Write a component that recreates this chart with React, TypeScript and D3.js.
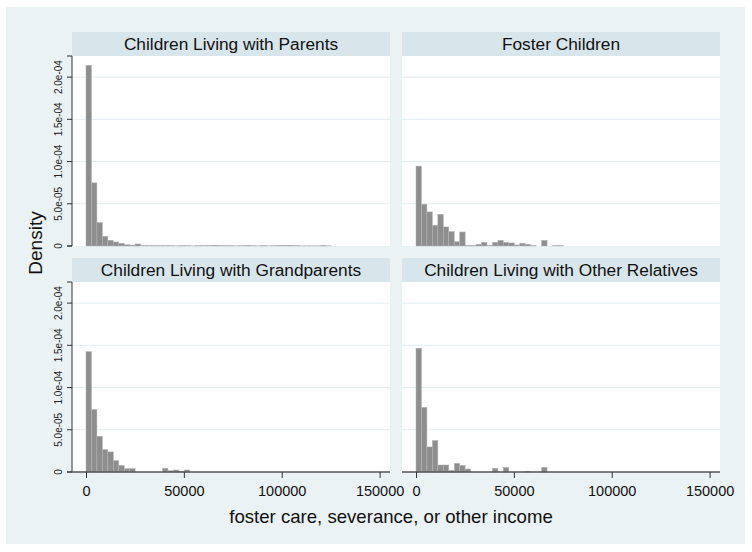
import * as d3 from 'd3'
import { useEffect, useRef } from 'react'

// histogram bin width (income units) and density per bin
const binWidth = 2790
const panelTitles = [
  'Children Living with Parents',
  'Foster Children',
  'Children Living with Grandparents',
  'Children Living with Other Relatives',
]
const parents = [
  2.14e-4, 7.48e-5, 2.78e-5, 1.15e-5, 6.8e-6, 4.8e-6, 3.2e-6, 1.5e-6, 1.2e-6, 2.4e-6,
  0.4e-6, 0.3e-6, 0.3e-6, 0.3e-6, 0.3e-6, 0.3e-6, 0.2e-6, 0.3e-6, 0.3e-6, 0.2e-6,
  0.3e-6, 0.3e-6, 0.4e-6, 1.0e-6, 0.6e-6, 0.3e-6, 0.3e-6, 0.2e-6, 0.3e-6, 0.7e-6,
  0.3e-6, 0.2e-6, 0.6e-6, 0.2e-6, 0.3e-6, 0.8e-6, 0.8e-6, 0.8e-6, 0.3e-6, 0.2e-6,
  0.2e-6, 0.2e-6, 0.2e-6, 0.8e-6, 0.2e-6,
]
const foster = [
  9.46e-5, 4.95e-5, 4.04e-5, 2.46e-5, 3.76e-5, 2.26e-5, 1.7e-5, 5.2e-6, 1.66e-5, 0.8e-6,
  0.5e-6, 2.0e-6, 4.3e-6, 0.7e-6, 4.4e-6, 6.7e-6, 4.4e-6, 3.6e-6, 1.2e-6, 3.2e-6,
  2.0e-6, 0.5e-6, 0, 6.7e-6, 0, 0.3e-6, 0.5e-6,
]
const grandparents = [
  1.425e-4, 7.41e-5, 4.24e-5, 2.66e-5, 2.38e-5, 1.35e-5, 7.9e-6, 4.0e-6, 4.0e-6, 0,
  0, 0, 0, 0, 4.4e-6, 1.5e-6, 2.4e-6, 1.0e-6, 2.4e-6,
]
const otherRelatives = [
  1.466e-4, 7.65e-5, 2.97e-5, 3.73e-5, 8.3e-6, 8.3e-6, 2.0e-6, 1.03e-5, 7.9e-6, 3.6e-6,
  0, 0, 0, 0, 4.4e-6, 0, 5.5e-6, 0, 0, 0,
  0.5e-6, 0, 0, 5.5e-6,
]
const xTicks = [0, 50000, 100000, 150000]
const yTicks = [0, 5e-5, 1e-4, 1.5e-4, 2e-4]
const yTickLabels = ['0', '5.0e-05', '1.0e-04', '1.5e-04', '2.0e-04']

export default function App() {
  const ref = useRef(null)

  useEffect(() => {
    const svg = d3.select(ref.current)
    svg.selectAll('*').remove()
    const font = 'Liberation Sans, Arial, sans-serif'
    const plotW = 318
    const plotH = 190
    const titleH = 24

    svg.append('rect').attr('width', 752).attr('height', 552).attr('fill', '#ffffff')
    svg.append('rect').attr('x', 6).attr('y', 7).attr('width', 739).attr('height', 537).attr('fill', '#eaf2f3')

    const x = d3.scaleLinear().domain([0, 150000]).range([14, 307.6])
    const y = d3.scaleLinear().domain([0, 2.25e-4]).range([plotH, 0])

    const panels = [
      { title: panelTitles[0], data: parents, left: 72, top: 32, yAxis: true, xAxis: false },
      { title: panelTitles[1], data: foster, left: 402, top: 32, yAxis: false, xAxis: false },
      { title: panelTitles[2], data: grandparents, left: 72, top: 258, yAxis: true, xAxis: true },
      { title: panelTitles[3], data: otherRelatives, left: 402, top: 258, yAxis: false, xAxis: true },
    ]

    panels.forEach((p) => {
      const g = svg.append('g').attr('transform', `translate(${p.left},${p.top})`)
      g.append('rect').attr('width', plotW).attr('height', titleH).attr('fill', '#d8e5eb')
      g.append('text')
        .attr('x', plotW / 2).attr('y', titleH / 2 + 6)
        .attr('text-anchor', 'middle')
        .attr('font-family', font).attr('font-size', 17.3).attr('fill', '#111')
        .text(p.title)

      const plot = g.append('g').attr('transform', `translate(0,${titleH})`)
      plot.append('rect').attr('width', plotW).attr('height', plotH).attr('fill', '#ffffff')
      plot.selectAll('.grid')
        .data(yTicks.slice(1))
        .join('line')
        .attr('x1', 0).attr('x2', plotW)
        .attr('y1', (d) => y(d)).attr('y2', (d) => y(d))
        .attr('stroke', '#e3edf0').attr('stroke-width', 1)

      plot.selectAll('.bar')
        .data(p.data.map((v, i) => ({ x0: i * binWidth, v })).filter((d) => d.v > 0))
        .join('rect')
        .attr('x', (d) => x(d.x0))
        .attr('width', x(binWidth) - x(0))
        .attr('y', (d) => y(d.v))
        .attr('height', (d) => y(0) - y(d.v))
        .attr('fill', '#8e8e8e')
        .attr('stroke', '#b4b4b4')
        .attr('stroke-width', 0.5)

      if (p.yAxis) {
        const ax = plot.append('g').call(
          d3.axisLeft(y).tickValues(yTicks).tickSize(5).tickFormat((d, i) => yTickLabels[i])
        )
        ax.select('.domain').attr('stroke', '#333').attr('d', `M-5,0H0V${plotH}H-5`)
        ax.selectAll('line').attr('stroke', '#333')
        ax.selectAll('text')
          .attr('font-family', font).attr('font-size', 10).attr('fill', '#222')
          .attr('transform', 'rotate(-90)')
          .attr('x', null).attr('dy', null)
          .attr('y', -10)
          .attr('text-anchor', 'middle')
          .each(function (d) {
            d3.select(this).attr('x', -y(d))
          })
        ax.selectAll('.tick').each(function (d) {
          d3.select(this).attr('transform', 'translate(0,0)')
          d3.select(this).select('line').attr('y1', y(d)).attr('y2', y(d))
        })
      }

      if (p.xAxis) {
        const ax = plot.append('g').attr('transform', `translate(0,${plotH})`).call(
          d3.axisBottom(x).tickValues(xTicks).tickSize(6).tickFormat(d3.format('d'))
        )
        ax.select('.domain').attr('stroke', '#555').attr('stroke-width', 1.3).attr('d', `M0,0H${plotW}`)
        ax.selectAll('line').attr('stroke', '#333')
        ax.selectAll('text')
          .attr('font-family', font).attr('font-size', 14.5).attr('fill', '#111')
          .attr('y', 14)
      }
    })

    svg.append('text')
      .attr('transform', 'translate(42,243) rotate(-90)')
      .attr('text-anchor', 'middle')
      .attr('font-family', font).attr('font-size', 19).attr('fill', '#111')
      .text('Density')

    svg.append('text')
      .attr('x', 391).attr('y', 523)
      .attr('text-anchor', 'middle')
      .attr('font-family', font).attr('font-size', 18.6).attr('fill', '#111')
      .text('foster care, severance, or other income')
  }, [])

  return <svg ref={ref} width={752} height={552} style={{ position: 'absolute', left: 0, top: 0 }} />
}
